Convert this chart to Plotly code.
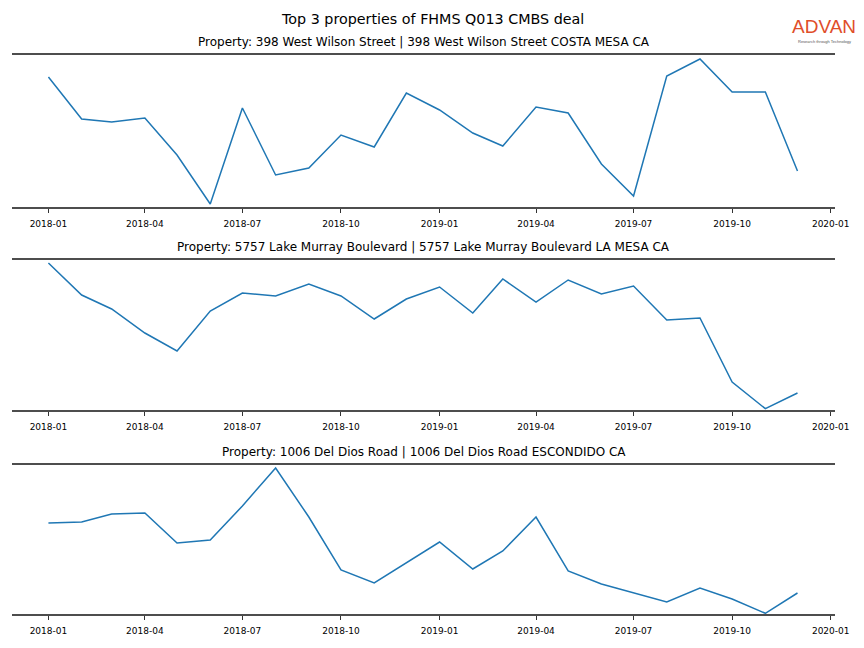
import plotly.graph_objects as go
from plotly.subplots import make_subplots

months = ["2018-01-01", "2018-02-01", "2018-03-01", "2018-04-01", "2018-05-01", "2018-06-01",
          "2018-07-01", "2018-08-01", "2018-09-01", "2018-10-01", "2018-11-01", "2018-12-01",
          "2019-01-01", "2019-02-01", "2019-03-01", "2019-04-01", "2019-05-01", "2019-06-01",
          "2019-07-01", "2019-08-01", "2019-09-01", "2019-10-01", "2019-11-01", "2019-12-01"]

titles = [
    "Property: 398 West Wilson Street | 398 West Wilson Street COSTA MESA CA",
    "Property: 5757 Lake Murray Boulevard | 5757 Lake Murray Boulevard LA MESA CA",
    "Property: 1006 Del Dios Road | 1006 Del Dios Road ESCONDIDO CA",
]

wilson = [130, 88, 85, 89, 52, 3, 99, 32, 39, 72, 60, 114,
          97, 74, 61, 100, 94, 43, 11, 131, 148, 115, 115, 36]
lake_murray = [147, 115, 101, 77, 59, 99, 117, 114, 126, 114, 91, 111,
               123, 97, 131, 108, 130, 116, 124, 90, 92, 28, 1.3, 17]
del_dios = [91, 92, 100, 101, 71, 74, 108, 146, 97, 44, 31, 51,
            72, 45, 63, 97, 43, 30, 21, 12, 26, 15, 0.7, 21]

series = [wilson, lake_murray, del_dios]
y_ranges = [[0, 152], [0, 150], [0, 149]]

tick_vals = ["2018-01-01", "2018-04-01", "2018-07-01", "2018-10-01", "2019-01-01",
             "2019-04-01", "2019-07-01", "2019-10-01", "2020-01-01"]
tick_text = ["2018-01", "2018-04", "2018-07", "2018-10", "2019-01",
             "2019-04", "2019-07", "2019-10", "2020-01"]

# page body has an 8px margin; size the figure so the page never scrolls
OFF = 8
W, H = 848, 632


def px(p):
    return (p - OFF) / W


def py(p):
    return 1 - (p - OFF) / H


fig = make_subplots(rows=3, cols=1)

panels = [(55, 207), (260, 410), (465, 614)]
xdom = [px(12), px(835)]

font = "DejaVu Sans"
for i, (vals, (top, bot)) in enumerate(zip(series, panels)):
    r = i + 1
    fig.add_trace(go.Scatter(x=months, y=vals, mode="lines",
                             line=dict(color="#1f77b4", width=1.5),
                             showlegend=False, hoverinfo="x+y"), row=r, col=1)
    xa = "xaxis" if i == 0 else f"xaxis{r}"
    ya = "yaxis" if i == 0 else f"yaxis{r}"
    fig.layout[xa].update(
        domain=xdom, range=["2017-11-28", "2020-01-05"], type="date",
        tickvals=tick_vals, ticktext=tick_text, ticks="outside", ticklen=4,
        tickcolor="#333333", tickwidth=1, showgrid=False, zeroline=False,
        showline=True, mirror=True, linecolor="#4d4d4d", linewidth=2,
        automargin=False, ticklabelstandoff=3,
        tickfont=dict(family=font, size=9, color="#000000"))
    fig.layout[ya].update(
        domain=[py(bot), py(top)], range=y_ranges[i], automargin=False,
        showticklabels=False, showgrid=False, zeroline=False, showline=False, ticks="")
    fig.add_annotation(text=titles[i], xref="paper", yref="paper",
                       x=(xdom[0] + xdom[1]) / 2, y=py(top - 13),
                       xanchor="center", yanchor="middle", showarrow=False,
                       font=dict(family=font, size=12, color="#000000"))

fig.add_annotation(text="Top 3 properties of FHMS Q013 CMBS deal", xref="paper", yref="paper",
                   x=px(432), y=py(19), xanchor="center", yanchor="middle", showarrow=False,
                   font=dict(family=font, size=14.3, color="#000000"))

# logo
fig.add_annotation(text="ADVAN", xref="paper", yref="paper",
                   x=px(824), y=py(37.5), xanchor="center", yanchor="bottom", showarrow=False,
                   borderpad=0,
                   font=dict(family="Liberation Sans", size=19, color="#E04E2A"))
fig.add_annotation(text="Research through Technology", xref="paper", yref="paper",
                   x=px(824), y=py(37.5), xanchor="center", yanchor="top", showarrow=False,
                   borderpad=0,
                   font=dict(family="Liberation Sans", size=4, color="#555555"))

fig.update_layout(width=W, height=H, margin=dict(l=0, r=0, t=0, b=0, autoexpand=False),
                  paper_bgcolor="white", plot_bgcolor="white", showlegend=False)

fig.write_html("out.html")
